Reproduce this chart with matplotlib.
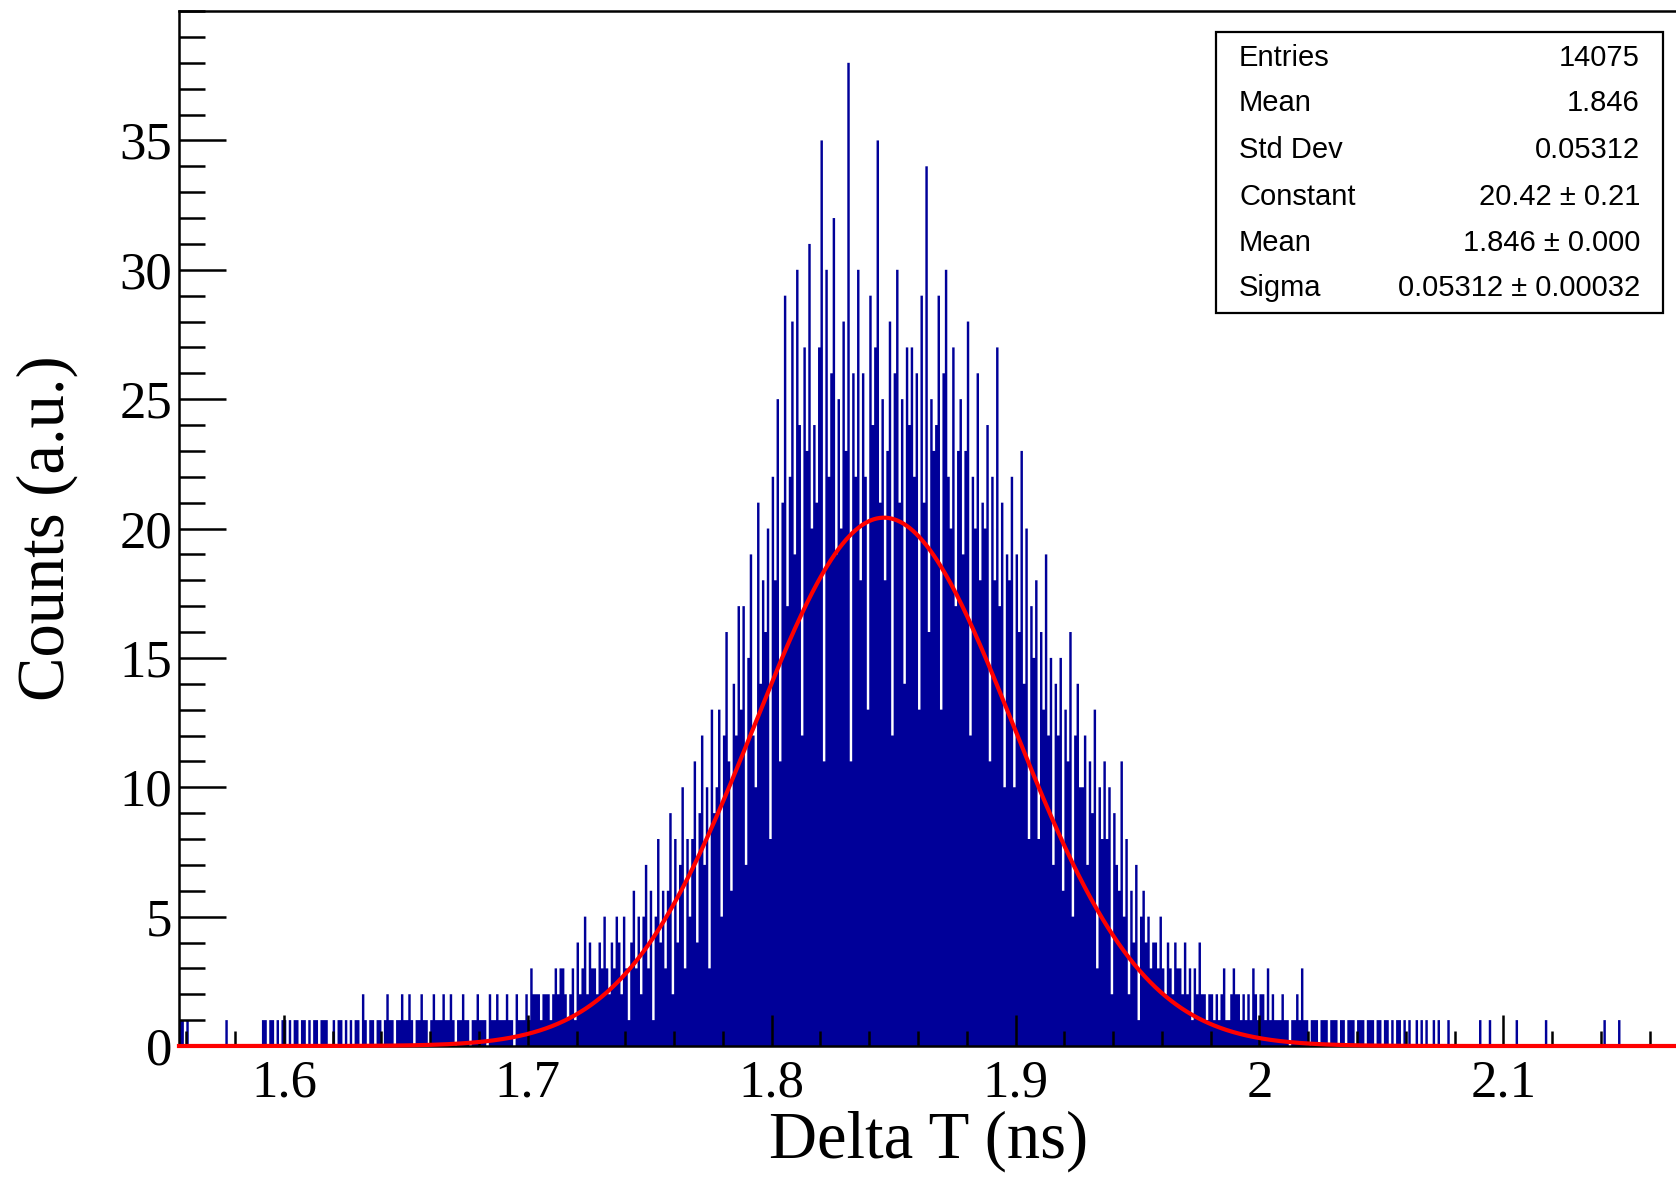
import matplotlib.pyplot as plt
import numpy as np
from matplotlib.ticker import MultipleLocator, FixedLocator, FuncFormatter
from matplotlib.patches import Rectangle

# histogram range (ns) and counts per bin
x_lo, x_hi = 1.557, 2.172
counts = [
    1, 1, 0, 1, 0, 0, 0, 0, 0, 0,
    0, 0, 0, 0, 0, 0, 0, 0, 0, 1,
    0, 0, 0, 0, 0, 0, 0, 0, 0, 0,
    0, 0, 0, 0, 1, 1, 0, 1, 1, 0,
    1, 0, 1, 1, 0, 1, 0, 1, 1, 0,
    1, 1, 0, 1, 0, 1, 1, 0, 1, 1,
    1, 0, 0, 1, 0, 1, 1, 0, 1, 0,
    1, 0, 1, 1, 0, 2, 1, 0, 1, 1,
    0, 1, 1, 0, 1, 2, 1, 1, 0, 1,
    1, 2, 1, 1, 2, 1, 0, 1, 1, 2,
    1, 1, 0, 1, 2, 1, 1, 1, 2, 1,
    1, 2, 1, 0, 1, 1, 2, 1, 1, 0,
    1, 1, 2, 1, 1, 1, 0, 2, 1, 1,
    2, 1, 1, 1, 2, 1, 1, 0, 2, 1,
    1, 1, 2, 1, 3, 2, 2, 2, 1, 2,
    2, 2, 1, 2, 3, 2, 3, 3, 2, 1,
    2, 3, 1, 4, 2, 3, 5, 2, 4, 3,
    3, 2, 4, 3, 5, 3, 2, 4, 3, 5,
    4, 2, 5, 3, 1, 4, 6, 3, 5, 2,
    5, 7, 3, 6, 1, 5, 8, 4, 6, 3,
    6, 9, 2, 8, 4, 7, 10, 3, 8, 5,
    8, 11, 4, 9, 12, 7, 10, 3, 13, 9,
    10, 13, 5, 12, 16, 11, 6, 14, 12, 17,
    13, 17, 7, 15, 19, 12, 10, 21, 14, 18,
    16, 20, 8, 22, 18, 25, 11, 21, 29, 17,
    22, 28, 19, 30, 24, 12, 27, 23, 31, 20,
    24, 21, 27, 35, 11, 30, 22, 26, 32, 19,
    25, 20, 28, 23, 38, 11, 26, 22, 30, 18,
    26, 22, 13, 29, 24, 27, 35, 21, 25, 18,
    23, 28, 12, 26, 30, 21, 25, 14, 27, 24,
    27, 22, 26, 13, 29, 21, 34, 16, 25, 23,
    24, 29, 13, 26, 30, 22, 20, 27, 17, 23,
    25, 19, 23, 28, 12, 22, 20, 26, 18, 21,
    20, 24, 11, 22, 18, 27, 17, 21, 10, 19,
    18, 22, 10, 19, 16, 23, 14, 20, 8, 17,
    15, 18, 8, 16, 13, 19, 12, 15, 7, 14,
    12, 15, 6, 13, 11, 16, 5, 12, 14, 10,
    10, 12, 7, 11, 9, 13, 3, 10, 8, 11,
    8, 10, 2, 9, 7, 6, 11, 5, 8, 2,
    6, 4, 7, 1, 5, 6, 4, 5, 3, 4,
    4, 3, 5, 3, 2, 4, 3, 2, 4, 3,
    3, 2, 4, 2, 3, 1, 3, 2, 4, 2,
    2, 1, 2, 2, 1, 2, 1, 2, 3, 1,
    1, 2, 3, 2, 2, 1, 2, 1, 2, 1,
    3, 2, 1, 2, 2, 1, 3, 1, 2, 1,
    1, 1, 2, 1, 1, 0, 1, 1, 2, 1,
    3, 1, 1, 0, 1, 1, 1, 0, 1, 1,
    1, 0, 1, 1, 1, 0, 1, 1, 0, 1,
    1, 1, 0, 1, 1, 1, 0, 1, 1, 1,
    0, 1, 1, 0, 1, 1, 0, 1, 0, 1,
    1, 0, 1, 0, 1, 0, 0, 1, 0, 1,
    0, 1, 0, 0, 1, 0, 1, 0, 0, 0,
    1, 0, 0, 0, 0, 0, 0, 0, 0, 0,
    0, 0, 0, 1, 0, 0, 0, 1, 0, 0,
    0, 0, 0, 0, 0, 0, 0, 0, 1, 0,
    0, 0, 0, 0, 0, 0, 0, 0, 0, 0,
    1, 0, 0, 0, 0, 0, 0, 0, 0, 0,
    0, 0, 0, 0, 0, 0, 0, 0, 0, 0,
    0, 0, 0, 0, 1, 0, 0, 0, 0, 0,
    1, 0, 0, 0, 0, 0, 0, 0, 0, 0,
    0, 0, 0, 0, 0, 0, 0, 0, 0, 0,
    0, 0, 0, 0, 0,
]

# gaussian fit parameters (from the stats box)
fit_const = 20.42
fit_mean = 1.846
fit_sigma = 0.05312

stat_names = ["Entries", "Mean", "Std Dev", "Constant", "Mean", "Sigma"]
stat_values = ["14075", "1.846", "0.05312", "20.42 \u00b1 0.21",
               "1.846 \u00b1 0.000", "0.05312 \u00b1 0.00032"]

y_ticks = [0, 5, 10, 15, 20, 25, 30, 35]

serif = "Liberation Serif"
sans = "Liberation Sans"
hist_color = "#000099"

fig = plt.figure(figsize=(16.76, 11.77), dpi=100)
ax = fig.add_axes([0.1068, 0.1113, 0.8950, 0.8793])

edges = np.linspace(x_lo, x_hi, len(counts) + 1)
ax.stairs(counts, edges, fill=True, color=hist_color, lw=0)

# fit curve, drawn over the frame like ROOT does
xf = np.linspace(x_lo, x_hi, 2000)
yf = fit_const * np.exp(-0.5 * ((xf - fit_mean) / fit_sigma) ** 2)
ax.plot(xf, yf, color="#ff0000", lw=3, clip_on=False, zorder=3)

ax.set_xlim(x_lo, x_hi)
ax.set_ylim(0, 40)

for s in ax.spines.values():
    s.set_linewidth(1.8)

ax.xaxis.set_major_locator(MultipleLocator(0.1))
ax.xaxis.set_minor_locator(MultipleLocator(0.02))
ax.yaxis.set_major_locator(FixedLocator(y_ticks))
ax.yaxis.set_minor_locator(MultipleLocator(1))
ax.xaxis.set_major_formatter(FuncFormatter(lambda v, p: "%g" % round(v, 3)))

ax.tick_params(axis="both", which="both", direction="in", top=False, right=False)
ax.tick_params(axis="y", which="major", length=34, width=1.8, labelsize=38, pad=5)
ax.tick_params(axis="y", which="minor", length=19, width=1.8)
ax.tick_params(axis="x", which="major", length=22, width=1.8, labelsize=38, pad=10)
ax.tick_params(axis="x", which="minor", length=11, width=1.8)
for lab in ax.get_xticklabels() + ax.get_yticklabels():
    lab.set_family(serif)

ax.set_xlabel("Delta T (ns)", fontsize=48, family=serif, labelpad=2)
ax.set_ylabel("Counts (a.u.)", fontsize=48, family=serif, labelpad=30)

# stats box
fig.add_artist(Rectangle((0.7255, 0.7341), 0.2667, 0.2387, transform=fig.transFigure,
                         fc="white", ec="black", lw=1.6, zorder=5))
row_y = [58, 103, 150, 197, 243, 288]
for name, val, yy in zip(stat_names, stat_values, row_y):
    fy = 1 - yy / 1177
    fig.text(0.7393, fy, name, ha="left", va="center", fontsize=21, family=sans, zorder=6)
    fig.text(0.9785, fy, val, ha="right", va="center", fontsize=21, family=sans, zorder=6)

fig.savefig("out.png", dpi=100)
